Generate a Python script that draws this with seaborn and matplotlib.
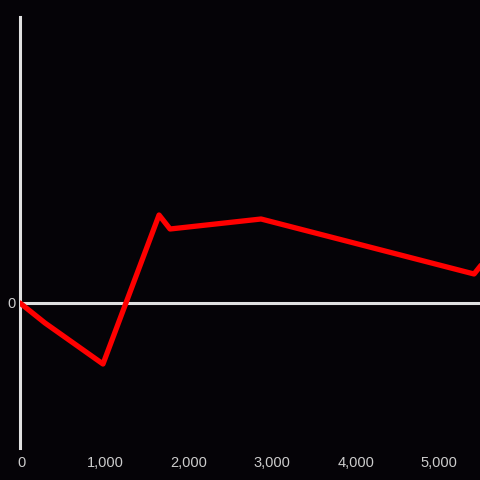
import matplotlib
matplotlib.use("Agg")
import matplotlib.pyplot as plt
import seaborn as sns
import pandas as pd

# data
x_vals = [0, 300, 995, 1667, 1799, 2890, 5444, 5530]
y_vals = [0, -20, -61, 88, 74, 84, 29, 38]
x_ticks = [0, 1000, 2000, 3000, 4000, 5000]
x_labels = ["0", "1,000", "2,000", "3,000", "4,000", "5,000"]

bg = "#050307"
axis_col = "#e0e0e0"
text_col = "#cccccc"

sns.set_theme(style="dark")
plt.rcParams["font.family"] = ["Liberation Sans", "DejaVu Sans"]

df = pd.DataFrame({"x": x_vals, "y": y_vals})

fig = plt.figure(figsize=(4.8, 4.8), dpi=100, facecolor=bg)
ax = fig.add_axes([20 / 480, 32 / 480, 460 / 480, 431 / 480])
ax.set_facecolor(bg)

sns.lineplot(data=df, x="x", y="y", ax=ax, color="#ff0000", linewidth=3.8,
             sort=False, zorder=3)
ax.axhline(0, color=axis_col, linewidth=2.2, zorder=2)

ax.set_xlim(0, 5515)
ax.set_ylim(-145, 286)

for s in ["top", "right", "bottom"]:
    ax.spines[s].set_visible(False)
ax.spines["left"].set_color(axis_col)
ax.spines["left"].set_linewidth(2.2)
ax.grid(False)

ax.set_xticks(x_ticks)
ax.set_xticklabels(x_labels)
ax.set_yticks([0])
ax.set_yticklabels(["0"])
ax.tick_params(axis="both", length=0, colors=text_col, labelsize=10.5)
ax.tick_params(axis="x", pad=6)
ax.tick_params(axis="y", pad=3)
ax.set_xlabel("")
ax.set_ylabel("")

# nudge x labels slightly right like the reference
import matplotlib.transforms as mtrans
shift = mtrans.ScaledTranslation(2 / 100, 0, fig.dpi_scale_trans)
for lbl in ax.get_xticklabels():
    lbl.set_transform(lbl.get_transform() + shift)

fig.savefig("out.png", dpi=100, facecolor=bg)
